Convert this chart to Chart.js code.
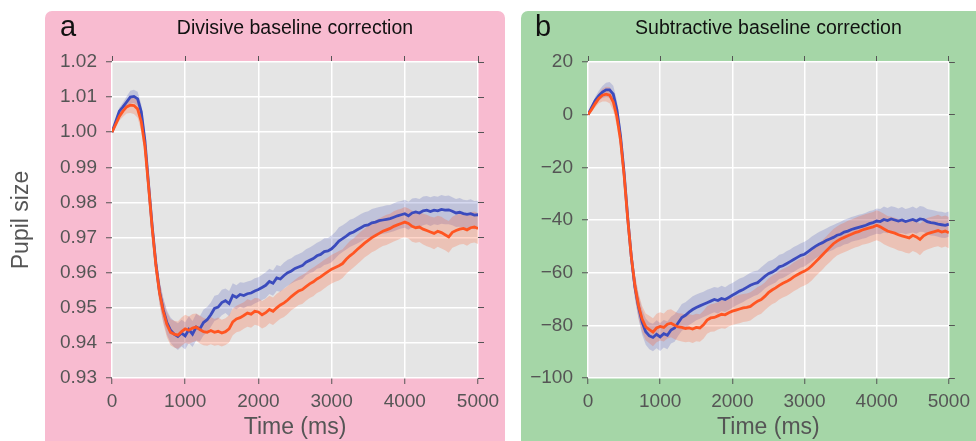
<!DOCTYPE html>
<html>
<head>
<meta charset="utf-8">
<script src="https://cdn.jsdelivr.net/npm/chart.js@4.4.0/dist/chart.umd.min.js"></script>
<style>
  html, body { margin: 0; padding: 0; background: #fff; }
  #wrap { position: relative; width: 976px; height: 441px; overflow: hidden; }
  canvas { position: absolute; top: 0; }
  #cA { left: 0; }
  #cB { left: 512px; }
</style>
</head>
<body>
<div id="wrap">
  <canvas id="cA" width="512" height="441"></canvas>
  <canvas id="cB" width="464" height="441"></canvas>
</div>
<script>
// time axis: samples every 50 ms, 0..5000
const times = Array.from({ length: 101 }, (_, i) => i * 50);
const xTicks = [0, 1000, 2000, 3000, 4000, 5000];
const yTicksA = [0.93, 0.94, 0.95, 0.96, 0.97, 0.98, 0.99, 1.00, 1.01, 1.02];
const yTicksB = [-100, -80, -60, -40, -20, 0, 20];

// panel a - divisive baseline correction
const blueA = [
  1.0000, 1.0030, 1.0060, 1.0072, 1.0086, 1.0100, 1.0102, 1.0095, 1.0058, 0.9975,
  0.9850, 0.9730, 0.9625, 0.9545, 0.9495, 0.9458, 0.9436, 0.9425, 0.9418, 0.9428,
  0.9420, 0.9438, 0.9425, 0.9445, 0.9440, 0.9458, 0.9466, 0.9480, 0.9498, 0.9502,
  0.9515, 0.9520, 0.9512, 0.9535, 0.9530, 0.9538, 0.9535, 0.9540, 0.9542, 0.9548,
  0.9552, 0.9558, 0.9564, 0.9575, 0.9570, 0.9585, 0.9582, 0.9592, 0.9600, 0.9605,
  0.9612, 0.9616, 0.9620, 0.9630, 0.9635, 0.9640, 0.9648, 0.9652, 0.9660, 0.9662,
  0.9668, 0.9678, 0.9690, 0.9697, 0.9704, 0.9712, 0.9716, 0.9722, 0.9728, 0.9734,
  0.9736, 0.9742, 0.9744, 0.9748, 0.9750, 0.9752, 0.9754, 0.9758, 0.9762, 0.9765,
  0.9768, 0.9762, 0.9770, 0.9773, 0.9770, 0.9776, 0.9778, 0.9774, 0.9778, 0.9776,
  0.9780, 0.9778, 0.9779, 0.9775, 0.9770, 0.9772, 0.9768, 0.9766, 0.9768, 0.9764,
  0.9765
];
const orangeA = [
  1.0000, 1.0022, 1.0045, 1.0060, 1.0072, 1.0077, 1.0076, 1.0066, 1.0030, 0.9960,
  0.9845, 0.9725, 0.9620, 0.9542, 0.9490, 0.9452, 0.9430, 0.9425, 0.9422, 0.9432,
  0.9440, 0.9436, 0.9442, 0.9445, 0.9438, 0.9432, 0.9430, 0.9435, 0.9430, 0.9433,
  0.9428, 0.9432, 0.9440, 0.9460, 0.9468, 0.9472, 0.9478, 0.9485, 0.9482, 0.9490,
  0.9488, 0.9480, 0.9486, 0.9495, 0.9490, 0.9500, 0.9508, 0.9514, 0.9522, 0.9532,
  0.9540, 0.9548, 0.9552, 0.9560, 0.9568, 0.9574, 0.9582, 0.9588, 0.9596, 0.9603,
  0.9610, 0.9615, 0.9620, 0.9626, 0.9638, 0.9648, 0.9656, 0.9666, 0.9675, 0.9684,
  0.9692, 0.9700, 0.9706, 0.9712, 0.9718, 0.9722, 0.9726, 0.9732, 0.9736, 0.9740,
  0.9744, 0.9740, 0.9732, 0.9728, 0.9730, 0.9724, 0.9720, 0.9716, 0.9712, 0.9718,
  0.9714, 0.9708, 0.9702, 0.9715, 0.9720, 0.9724, 0.9726, 0.9722, 0.9728, 0.9730,
  0.9726
];
// half-width of the shaded bands
const semBlueA = [
  0.0002, 0.0006, 0.0010, 0.0013, 0.0016, 0.0018, 0.0019, 0.0020, 0.0022, 0.0024,
  0.0026, 0.0028, 0.0030, 0.0032, 0.0034, 0.0035, 0.0036, 0.0037, 0.0038, 0.0038,
  0.0039, 0.0038, 0.0037, 0.0038, 0.0036, 0.0037, 0.0036, 0.0035, 0.0036, 0.0035,
  0.0036, 0.0035, 0.0036, 0.0035, 0.0034, 0.0035, 0.0036, 0.0035, 0.0036, 0.0036,
  0.0035, 0.0036, 0.0037, 0.0036, 0.0036, 0.0037, 0.0036, 0.0037, 0.0037, 0.0036,
  0.0037, 0.0037, 0.0038, 0.0037, 0.0037, 0.0038, 0.0037, 0.0038, 0.0038, 0.0037,
  0.0038, 0.0038, 0.0039, 0.0038, 0.0038, 0.0039, 0.0038, 0.0039, 0.0039, 0.0038,
  0.0039, 0.0039, 0.0040, 0.0039, 0.0039, 0.0040, 0.0039, 0.0040, 0.0040, 0.0039,
  0.0040, 0.0040, 0.0041, 0.0040, 0.0040, 0.0041, 0.0040, 0.0041, 0.0040, 0.0040,
  0.0041, 0.0040, 0.0041, 0.0040, 0.0040, 0.0041, 0.0040, 0.0040, 0.0041, 0.0040,
  0.0040
];
const semOrangeA = [
  0.0002, 0.0007, 0.0012, 0.0016, 0.0019, 0.0022, 0.0024, 0.0025, 0.0027, 0.0028,
  0.0030, 0.0031, 0.0032, 0.0034, 0.0035, 0.0036, 0.0037, 0.0038, 0.0039, 0.0040,
  0.0040, 0.0039, 0.0040, 0.0039, 0.0040, 0.0039, 0.0038, 0.0039, 0.0038, 0.0039,
  0.0038, 0.0038, 0.0039, 0.0038, 0.0038, 0.0039, 0.0038, 0.0039, 0.0039, 0.0038,
  0.0039, 0.0039, 0.0040, 0.0039, 0.0039, 0.0040, 0.0039, 0.0040, 0.0040, 0.0039,
  0.0040, 0.0040, 0.0041, 0.0040, 0.0040, 0.0041, 0.0040, 0.0041, 0.0041, 0.0040,
  0.0041, 0.0041, 0.0042, 0.0041, 0.0041, 0.0042, 0.0041, 0.0042, 0.0042, 0.0041,
  0.0042, 0.0042, 0.0043, 0.0042, 0.0042, 0.0043, 0.0042, 0.0043, 0.0043, 0.0042,
  0.0043, 0.0043, 0.0044, 0.0043, 0.0043, 0.0044, 0.0045, 0.0044, 0.0045, 0.0044,
  0.0045, 0.0044, 0.0045, 0.0044, 0.0045, 0.0044, 0.0044, 0.0045, 0.0044, 0.0044,
  0.0044
];

// panel b - subtractive baseline correction
const blueB = [
  0, 2.8, 5.4, 7.2, 8.6, 9.4, 9.4, 7.8, 2.0, -8.0,
  -22.0, -39.0, -54.0, -65.5, -73.0, -78.8, -82.4, -84.0, -84.6, -83.4,
  -84.4, -83.2, -83.8, -81.8, -81.0, -79.0, -77.0, -76.2, -75.0, -74.0,
  -73.2, -72.6, -72.0, -71.4, -70.8, -70.2, -70.6, -69.8, -70.2, -69.4,
  -68.6, -67.8, -67.0, -66.4, -65.6, -64.8, -64.2, -63.8, -62.6, -61.4,
  -60.4, -59.8, -59.0, -57.8, -57.4, -56.6, -55.8, -55.0, -54.2, -53.4,
  -53.0, -52.0, -51.0, -50.0, -49.2, -48.6, -47.8, -47.2, -46.6, -45.8,
  -45.4, -44.6, -44.2, -43.6, -43.2, -42.8, -42.4, -42.0, -41.4, -41.0,
  -40.4, -40.6, -39.8, -40.2, -39.6, -40.0, -40.4, -40.0, -40.6, -40.2,
  -39.8, -40.4, -39.6, -39.8, -40.6, -41.0, -41.2, -41.6, -41.8, -42.0,
  -41.6
];
const orangeB = [
  0, 2.0, 4.2, 6.2, 7.4, 7.8, 7.4, 4.8, -0.8, -9.5,
  -23.0, -39.5, -54.0, -65.0, -72.5, -77.6, -80.6, -81.6, -82.6, -81.0,
  -80.4, -80.8, -79.6, -79.2, -80.0, -80.6, -80.8, -81.2, -81.0, -81.4,
  -80.8, -81.0, -79.8, -78.0, -77.2, -77.0, -76.4, -75.8, -76.0, -75.2,
  -74.6, -74.2, -73.8, -73.4, -73.2, -72.8, -71.8, -70.8, -70.2, -69.0,
  -67.6, -66.6, -65.8, -64.8, -64.0, -63.4, -62.6, -61.6, -60.8, -60.0,
  -59.4, -58.6, -57.4, -56.0, -54.6, -53.2, -51.8, -50.4, -49.0, -48.0,
  -47.2, -46.6, -46.0, -45.4, -44.8, -44.4, -43.8, -43.4, -43.0, -42.6,
  -42.0, -42.6, -43.4, -44.2, -44.6, -45.0, -45.6, -46.0, -46.4, -46.8,
  -45.8, -46.4, -47.4, -46.0, -45.2, -44.8, -44.4, -44.0, -44.6, -44.2,
  -44.8
];
const semBlueB = [
  0.2, 0.8, 1.4, 1.9, 2.3, 2.7, 3.0, 3.2, 3.4, 3.6,
  3.8, 4.0, 4.2, 4.4, 4.6, 4.8, 5.0, 5.1, 5.2, 5.3,
  5.3, 5.2, 5.3, 5.1, 5.2, 5.0, 5.1, 5.0, 4.9, 5.0,
  4.9, 4.9, 4.8, 4.9, 4.8, 4.8, 4.9, 4.8, 4.7, 4.8,
  4.7, 4.7, 4.8, 4.7, 4.7, 4.8, 4.7, 4.6, 4.7, 4.6,
  4.7, 4.6, 4.7, 4.6, 4.6, 4.7, 4.6, 4.7, 4.6, 4.6,
  4.7, 4.6, 4.7, 4.6, 4.6, 4.7, 4.6, 4.7, 4.7, 4.6,
  4.7, 4.7, 4.8, 4.7, 4.7, 4.8, 4.7, 4.8, 4.8, 4.7,
  4.8, 4.8, 4.9, 4.8, 4.8, 4.9, 4.8, 4.9, 4.8, 4.8,
  4.9, 4.8, 4.9, 4.8, 4.8, 4.9, 4.8, 4.8, 4.9, 4.8,
  4.8
];
const semOrangeB = [
  0.2, 0.8, 1.4, 1.9, 2.4, 2.8, 3.1, 3.3, 3.5, 3.7,
  3.9, 4.1, 4.3, 4.5, 4.7, 4.9, 5.1, 5.2, 5.3, 5.4,
  5.4, 5.3, 5.4, 5.3, 5.3, 5.2, 5.3, 5.2, 5.2, 5.3,
  5.2, 5.2, 5.3, 5.2, 5.2, 5.3, 5.2, 5.3, 5.3, 5.2,
  5.3, 5.3, 5.4, 5.3, 5.3, 5.4, 5.3, 5.4, 5.4, 5.3,
  5.4, 5.4, 5.5, 5.4, 5.4, 5.5, 5.4, 5.5, 5.5, 5.4,
  5.5, 5.5, 5.6, 5.5, 5.5, 5.6, 5.5, 5.6, 5.6, 5.5,
  5.6, 5.6, 5.7, 5.6, 5.6, 5.7, 5.6, 5.7, 5.7, 5.6,
  5.7, 5.7, 5.8, 5.7, 5.8, 5.9, 6.0, 5.9, 6.0, 5.9,
  6.0, 5.9, 6.0, 5.9, 6.0, 5.9, 5.9, 6.0, 5.9, 5.9,
  5.9
];

const BLUE = '#3b4bbd';
const ORANGE = '#ff5522';
const BLUE_BAND = 'rgba(63,77,184,0.22)';
const ORANGE_BAND = 'rgba(255,85,34,0.24)';
const TICK_GREY = '#555555';

Chart.defaults.font.family = '"Liberation Sans", Arial, sans-serif';

// panel background, grey plot area and the panel letter
const panelBg = {
  id: 'panelBg',
  beforeDraw(chart, args, opts) {
    const { ctx, chartArea: a } = chart;
    ctx.save();
    ctx.fillStyle = opts.color;
    ctx.beginPath();
    ctx.roundRect(opts.x0, opts.y0, opts.x1 - opts.x0, chart.height - opts.y0 + 20, 7);
    ctx.fill();
    ctx.fillStyle = '#e5e5e5';
    ctx.fillRect(a.left, a.top, a.right - a.left, a.bottom - a.top);
    ctx.fillStyle = '#111';
    ctx.font = '29px "Liberation Sans", Arial, sans-serif';
    ctx.textBaseline = 'alphabetic';
    ctx.fillText(opts.letter, opts.lx, 36);
    ctx.restore();
  }
};

function pts(arr) {
  return arr.map((v, i) => ({ x: times[i], y: v }));
}

function bandSets(mean, sem, band, o) {
  return [
    { data: pts(mean.map((v, i) => v + sem[i])), fill: '+1', backgroundColor: band,
      borderWidth: 0, pointRadius: 0, order: o + 1 },
    { data: pts(mean.map((v, i) => v - sem[i])), fill: false, borderWidth: 0,
      pointRadius: 0, order: o }
  ];
}

function tickSetter(list) {
  return s => { s.ticks = list.map(v => ({ value: v })); };
}

function makePanel(id, cfg) {
  const ctx = document.getElementById(id).getContext('2d');
  const datasets = [
    ...bandSets(cfg.blue, cfg.semBlue, BLUE_BAND, 5),
    ...bandSets(cfg.orange, cfg.semOrange, ORANGE_BAND, 3),
    { data: pts(cfg.blue), borderColor: BLUE, borderWidth: 2.8, pointRadius: 0, fill: false, order: 2 },
    { data: pts(cfg.orange), borderColor: ORANGE, borderWidth: 2.8, pointRadius: 0, fill: false, order: 1 }
  ];

  const mirror = { drawOnChartArea: false, tickLength: 6, tickColor: TICK_GREY, tickWidth: 1 };

  return new Chart(ctx, {
    type: 'line',
    data: { datasets },
    plugins: [panelBg],
    options: {
      responsive: false,
      animation: false,
      layout: { padding: { left: 0, right: cfg.padRight, top: 0, bottom: 0 } },
      elements: { line: { tension: 0 } },
      plugins: {
        legend: { display: false },
        tooltip: { enabled: false },
        title: {
          display: true,
          text: cfg.title,
          color: '#111',
          fullSize: false,
          font: { size: 19.5, weight: 'normal' },
          padding: { top: 17, bottom: 13.6 }
        },
        panelBg: cfg.bg
      },
      scales: {
        x: {
          type: 'linear', position: 'bottom', min: 0, max: 5000,
          afterBuildTicks: tickSetter(xTicks),
          afterFit: s => { s.height = 63; },
          grid: { color: '#ffffff', lineWidth: 1.5, tickLength: 6, tickColor: TICK_GREY, tickWidth: 1 },
          border: { display: false },
          ticks: { color: TICK_GREY, font: { size: 19 }, padding: 6, maxRotation: 0,
                   callback: v => String(v) },
          title: { display: true, text: 'Time (ms)', color: TICK_GREY, font: { size: 23 }, padding: 0 }
        },
        x2: {
          type: 'linear', position: 'top', min: 0, max: 5000,
          afterBuildTicks: tickSetter(xTicks),
          afterFit: s => { s.height = 8; },
          grid: mirror,
          border: { display: false },
          ticks: { display: false }
        },
        y: {
          type: 'linear', position: 'left', min: cfg.yMin, max: cfg.yMax,
          afterBuildTicks: tickSetter(cfg.yTicks),
          afterFit: s => { s.width = cfg.yWidth; },
          grid: { color: '#ffffff', lineWidth: 1.5, tickLength: 6, tickColor: TICK_GREY, tickWidth: 1 },
          border: { display: false },
          ticks: { color: TICK_GREY, font: { size: 19 }, padding: 9, callback: cfg.fmt },
          title: { display: !!cfg.yTitle, text: cfg.yTitle || '', color: TICK_GREY,
                   font: { size: 23 }, padding: { top: 8, bottom: 0 } }
        },
        y2: {
          type: 'linear', position: 'right', min: cfg.yMin, max: cfg.yMax,
          afterBuildTicks: tickSetter(cfg.yTicks),
          afterFit: s => { s.width = 10; },
          grid: mirror,
          border: { display: false },
          ticks: { display: false }
        }
      }
    }
  });
}

makePanel('cA', {
  title: 'Divisive baseline correction',
  blue: blueA, orange: orangeA, semBlue: semBlueA, semOrange: semOrangeA,
  yMin: 0.93, yMax: 1.02, yTicks: yTicksA, yWidth: 112, padRight: 24,
  yTitle: 'Pupil size',
  fmt: v => v.toFixed(2),
  bg: { color: '#f8bbd0', x0: 45, x1: 505, y0: 11, letter: 'a', lx: 60 }
});

makePanel('cB', {
  title: 'Subtractive baseline correction',
  blue: blueB, orange: orangeB, semBlue: semBlueB, semOrange: semOrangeB,
  yMin: -100, yMax: 20, yTicks: yTicksB, yWidth: 76, padRight: 12,
  fmt: v => (v < 0 ? '\u2212' + Math.abs(v) : String(v)),
  bg: { color: '#a5d6a7', x0: 9, x1: 480, y0: 11, letter: 'b', lx: 23 }
});
</script>
</body>
</html>
